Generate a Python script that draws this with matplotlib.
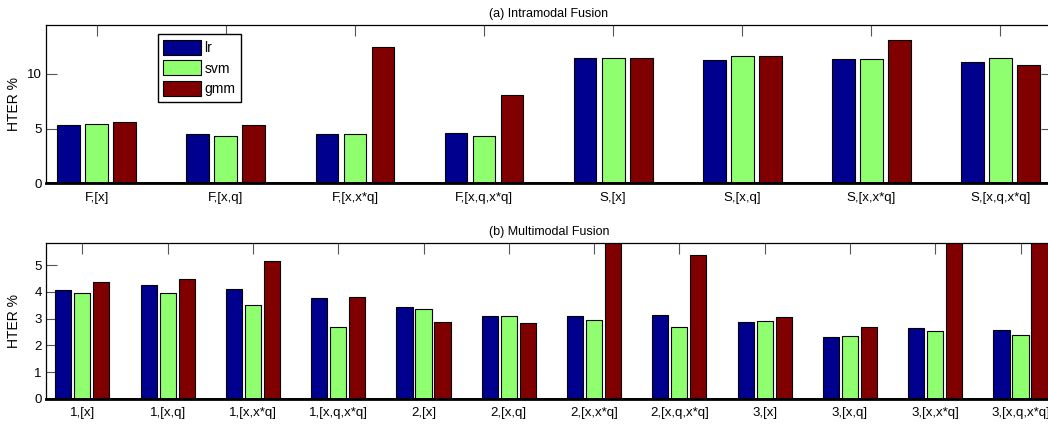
"""
plot.py
HTER of intramodal and multimodal fusion for three classifiers.
"""

import numpy as np
import matplotlib
matplotlib.use("Agg")
import matplotlib.pyplot as plt

plt.rcParams['font.family'] = ['Liberation Sans', 'DejaVu Sans']

classifiers = ['lr', 'svm', 'gmm']
colors = ['#00008F', '#8FFF70', '#800000']

intra_labels = ['F,[x]', 'F,[x,q]', 'F,[x,x*q]', 'F,[x,q,x*q]',
                'S,[x]', 'S,[x,q]', 'S,[x,x*q]', 'S,[x,q,x*q]']
intra_lr = [5.35, 4.53, 4.50, 4.59, 11.47, 11.25, 11.38, 11.10]
intra_svm = [5.41, 4.28, 4.46, 4.28, 11.44, 11.62, 11.38, 11.41]
intra_gmm = [5.63, 5.29, 12.45, 8.07, 11.41, 11.59, 13.12, 10.80]

multi_labels = ['1,[x]', '1,[x,q]', '1,[x,x*q]', '1,[x,q,x*q]',
                '2,[x]', '2,[x,q]', '2,[x,x*q]', '2,[x,q,x*q]',
                '3,[x]', '3,[x,q]', '3,[x,x*q]', '3,[x,q,x*q]']
multi_lr = [4.07, 4.27, 4.11, 3.77, 3.44, 3.11, 3.10, 3.13, 2.89, 2.32, 2.64, 2.57]
multi_svm = [3.96, 3.98, 3.51, 2.70, 3.37, 3.09, 2.97, 2.69, 2.92, 2.34, 2.54, 2.38]
multi_gmm = [4.37, 4.48, 5.15, 3.82, 2.88, 2.85, 6.5, 5.37, 3.06, 2.69, 6.8, 7.0]


def grouped_bars(ax, labels, series, width, offset):
    """Draw three bars per group, centred on the group index."""
    x = np.arange(1, len(labels) + 1)
    for i, (vals, name, col) in enumerate(zip(series, classifiers, colors)):
        ax.bar(x + (i - 1) * offset, vals, width, color=col, edgecolor='black',
               linewidth=0.8, label=name, zorder=2)
    ax.set_xticks(x)
    ax.set_xticklabels(labels, fontsize=9.5)
    ax.set_ylabel('HTER %', fontsize=10)
    ax.yaxis.set_label_coords(-0.0249, 0.5)
    ax.tick_params(direction='in', top=True, right=True, labelsize=9.5,
                   length=8, width=0.8, color='#555555', pad=3)
    ax.tick_params(axis='x', length=8, pad=6)
    for side in ['top', 'left', 'right']:
        ax.spines[side].set_linewidth(0.9)
    ax.spines['bottom'].set_linewidth(2)
    ax.axhline(0, color='black', linewidth=2, zorder=3)


fig = plt.figure(figsize=(10.48, 4.25), dpi=100)

ax1 = fig.add_axes([0.0439, 0.5687, 0.96, 0.3718])
grouped_bars(ax1, intra_labels, [intra_lr, intra_svm, intra_gmm], 0.176, 0.217)
ax1.set_xlim(0.607, 8.40)
ax1.set_ylim(0, 14.42)
ax1.set_yticks([0, 5, 10])
ax1.set_title('(a) Intramodal Fusion', fontsize=9, pad=6)
ax1.legend(loc='upper left', bbox_to_anchor=(0.111, 0.945), borderaxespad=0,
           fontsize=10, fancybox=False, edgecolor='black', framealpha=1,
           handlelength=2.75, handleheight=1.3, labelspacing=0.4,
           handletextpad=0.2, borderpad=0.4).get_frame().set_linewidth(1.0)

ax2 = fig.add_axes([0.0439, 0.0612, 0.96, 0.3663])
grouped_bars(ax2, multi_labels, [multi_lr, multi_svm, multi_gmm], 0.19, 0.223)
ax2.set_xlim(0.574, 12.37)
ax2.set_ylim(0, 5.82)
ax2.set_yticks([0, 1, 2, 3, 4, 5])
ax2.set_title('(b) Multimodal Fusion', fontsize=9, pad=6)

fig.savefig('out.png', dpi=100)
